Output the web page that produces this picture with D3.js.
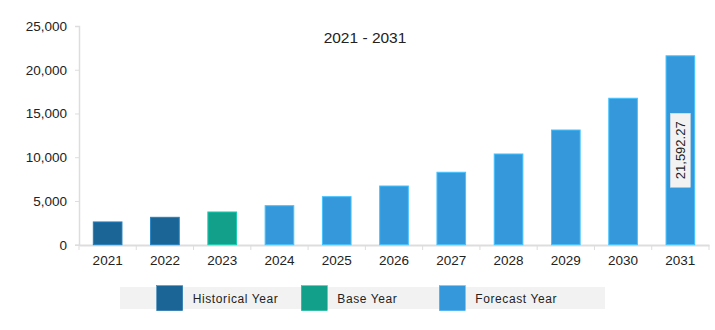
<!DOCTYPE html>
<html><head><meta charset="utf-8">
<script src="https://cdn.jsdelivr.net/npm/d3@7"></script>
<style>
body{margin:0;background:#fff;}
text{font-family:"Liberation Sans",Arial,sans-serif;}
</style></head>
<body><svg id="c" width="715" height="330"></svg>
<script>
const years = ["2021","2022","2023","2024","2025","2026","2027","2028","2029","2030","2031"];
const values = [2600,3130,3740,4460,5490,6710,8280,10370,13110,16740,21592.27];
const types = ["Historical Year","Historical Year","Base Year","Forecast Year","Forecast Year","Forecast Year","Forecast Year","Forecast Year","Forecast Year","Forecast Year","Forecast Year"];
const legendLabels = ["Historical Year","Base Year","Forecast Year"];
const colors = ["#1a6496","#13a08b","#3498db"];
const yTicks = [0,5000,10000,15000,20000,25000];
const title = "2021 - 2031";

const svg = d3.select("#c");
const x = d3.scaleBand().domain(years).range([79,709]).paddingInner(0.5).paddingOuter(0.25);
const y = d3.scaleLinear().domain([0,25000]).range([244.7,26]);
const color = d3.scaleOrdinal().domain(legendLabels).range(colors);

// y axis
const ya = svg.append("g").attr("transform","translate(79,0)")
  .call(d3.axisLeft(y).tickValues(yTicks).tickFormat(d3.format(",")).tickSize(4).tickPadding(8));
ya.select(".domain").attr("stroke","#ddd").attr("stroke-width",1.5);
ya.selectAll(".tick line").attr("stroke","#ddd");
ya.selectAll("text").attr("font-size",13.5).attr("fill","#222").attr("font-family","Liberation Sans, Arial, sans-serif");

// x axis
const xa = svg.append("g").attr("transform","translate(0,245)")
  .call(d3.axisBottom(x).tickSizeOuter(0).tickSize(0).tickPadding(10));
xa.select(".domain").attr("stroke","#ddd").attr("stroke-width",2);
xa.selectAll("text").attr("font-size",13.5).attr("fill","#222").attr("font-family","Liberation Sans, Arial, sans-serif");
// boundary ticks between bands
const step = x.step();
const bounds = d3.range(years.length+1).map(i => 79 + i*step);
svg.append("g").selectAll("line").data(bounds).join("line")
  .attr("x1",d=>d).attr("x2",d=>d).attr("y1",245).attr("y2",250)
  .attr("stroke","#ddd").attr("stroke-width",1);

// bars
svg.append("g").selectAll("rect").data(years).join("rect")
  .attr("x",d=>x(d)).attr("width",x.bandwidth())
  .attr("y",(d,i)=>y(values[i])).attr("height",(d,i)=>y(0)-y(values[i]))
  .attr("fill",(d,i)=>color(types[i]))
  .attr("stroke",(d,i)=>d3.color(color(types[i])).brighter(0.7))
  .attr("stroke-width",1);

// title
svg.append("text").attr("x",365).attr("y",43).attr("text-anchor","middle")
  .attr("font-size",15.5).attr("fill","#222").text(title);

// value label on last bar
const li = years.length-1;
const lx = x(years[li]) + x.bandwidth()/2;
const ly = (y(values[li]) + y(0))/2;
const lg = svg.append("g").attr("transform",`translate(${lx},${ly}) rotate(-90)`);
lg.append("rect").attr("x",-37).attr("y",-10).attr("width",74).attr("height",20)
  .attr("fill","#f2f2f2").attr("stroke","#ddd").attr("stroke-width",0.5);
lg.append("text").attr("text-anchor","middle").attr("dy","0.36em")
  .attr("font-size",13).attr("fill","#222").text(d3.format(",.2f")(values[li]));

// legend
svg.append("rect").attr("x",120).attr("y",287).attr("width",485).attr("height",22).attr("fill","#f2f2f2");
const lpos = [156.7,301.3,439.3];
const lgd = svg.append("g").selectAll("g").data(legendLabels).join("g")
  .attr("transform",(d,i)=>`translate(${lpos[i]},285.7)`);
lgd.append("rect").attr("width",26).attr("height",25).attr("fill",d=>color(d))
  .attr("stroke",d=>d3.color(color(d)).brighter(0.5)).attr("stroke-width",0.5);
lgd.append("text").attr("x",36).attr("y",12.5).attr("dy","0.36em").attr("font-size",12)
  .attr("letter-spacing",0.6).attr("fill","#222").text(d=>d);
</script></body></html>
